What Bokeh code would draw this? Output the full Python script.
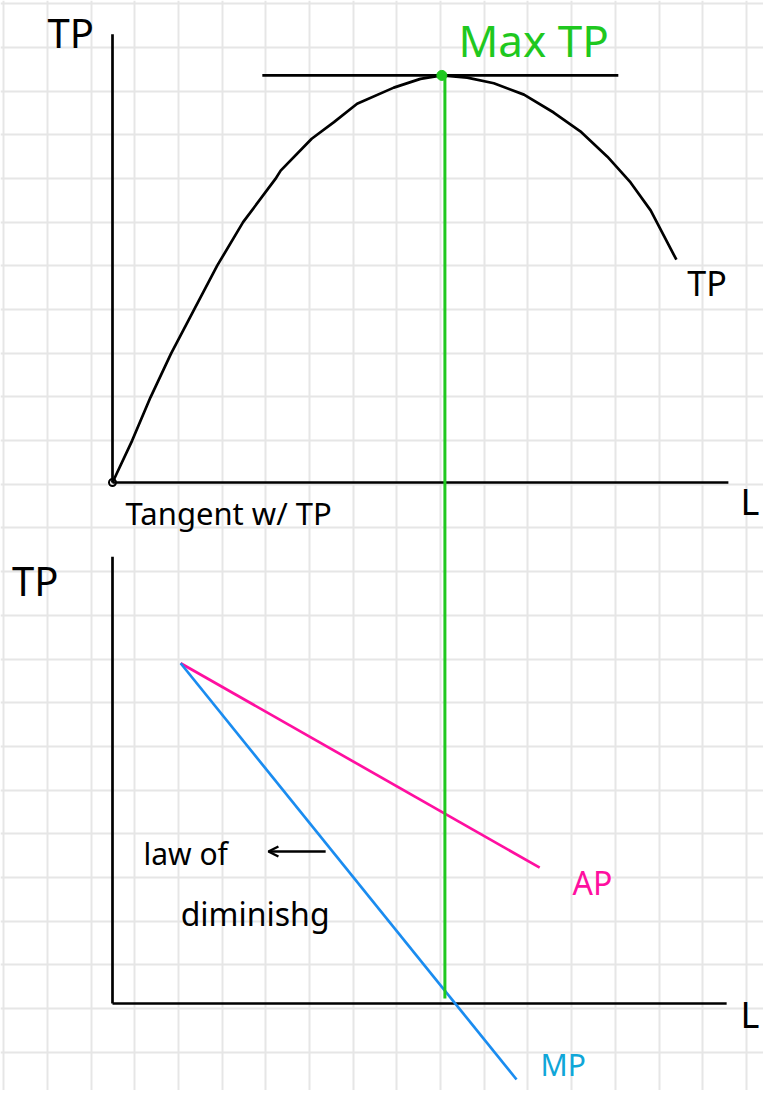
from bokeh.plotting import figure
from bokeh.models import Range1d, Grid, FixedTicker, Arrow, OpenHead, ColumnDataSource
from bokeh.core.properties import value
from bokeh.embed import file_html
from bokeh.resources import INLINE
import numpy as np

# ---------------- data (units = one square of the grid paper) ----------------
# Top panel: total product curve
L_tp = [0.0, 0.45, 0.87, 1.34, 1.88, 2.40, 2.99, 3.73, 3.85, 4.56, 5.07, 5.60,
        6.44, 7.05, 7.54, 8.12, 8.73, 9.42, 10.10, 10.71, 11.33, 11.86, 12.32, 12.91]
TP = [0.0, 0.96, 1.95, 2.95, 3.98, 4.97, 5.96, 6.95, 7.14, 7.87, 8.25, 8.67,
      9.04, 9.24, 9.32, 9.27, 9.14, 8.88, 8.47, 8.04, 7.46, 6.87, 6.23, 5.10]
L_max = 7.54           # labour at maximum TP
TP_max = 9.32          # maximum TP
L_max_line = 7.61      # green vertical line position
tangent_L = [3.43, 11.58]

# Axis extents
top_axis_x = [0.0, 14.10]
top_axis_y = [0.0, 10.26]
bot_axis_x = [0.0, 14.06]
bot_axis_y = [0.0, 10.23]

# Bottom panel: average and marginal product
L_ap = [1.56, 9.78]
AP = [7.79, 3.11]
L_mp = [1.56, 9.25]
MP = [7.79, -1.74]

# Labels
labels_top = ["TP", "Max TP", "TP", "L", "Tangent w/ TP"]
labels_bot = ["TP", "law of", "diminishg", "AP", "MP", "L"]

# ---------------- layout constants ----------------
SQ = 43.68                    # grid square in px
W, H = 763, 1090
OX, OY_TOP, OY_BOT = 112, 482, 1003   # origins in px

x0 = (0 - OX) / SQ
x1 = (W - OX) / SQ
yt_hi = OY_TOP / SQ
yt_lo = (OY_TOP - H) / SQ
yb_hi = OY_BOT / SQ
yb_lo = (OY_BOT - H) / SQ

p = figure(width=W, height=H, output_backend="svg", toolbar_location=None,
           x_axis_type=None, y_axis_type=None, min_border=0,
           x_range=Range1d(x0, x1), y_range=Range1d(yt_lo, yt_hi))
p.extra_y_ranges = {"bot": Range1d(yb_lo, yb_hi)}
p.outline_line_color = None
p.background_fill_color = "white"
p.border_fill_color = "white"

# grid paper
gx = list(np.arange(0, 19) + (3.3 - OX) / SQ)
gy = list((OY_TOP - 3.3) / SQ - np.arange(0, 27))
p.add_layout(Grid(dimension=0, ticker=FixedTicker(ticks=gx),
                  grid_line_color="#e6e6e6", grid_line_width=2))
p.add_layout(Grid(dimension=1, ticker=FixedTicker(ticks=gy),
                  grid_line_color="#e6e6e6", grid_line_width=2))

BLACK = "#000000"
GREEN = "#1fc81f"
PINK = "#ff0fa0"
BLUE = "#1a8cf0"
CYAN = "#10a6d8"
FONT = value("Noto Sans")
LW = 2.7

# top axes
p.line(top_axis_x, [0, 0], line_color=BLACK, line_width=LW)
p.line([0, 0], top_axis_y, line_color=BLACK, line_width=LW)
p.scatter([0], [0], size=7, fill_color=None, line_color=BLACK, line_width=2)

# TP curve and tangent
p.line(L_tp, TP, line_color=BLACK, line_width=LW, line_join="round")
p.line(tangent_L, [TP_max, TP_max], line_color=BLACK, line_width=LW)

# bottom axes
p.line(bot_axis_x, [0, 0], line_color=BLACK, line_width=LW, y_range_name="bot")
p.line([0, 0], bot_axis_y, line_color=BLACK, line_width=LW, y_range_name="bot")

# AP and MP
p.line(L_ap, AP, line_color=PINK, line_width=LW, y_range_name="bot")
p.line(L_mp, MP, line_color=BLUE, line_width=LW, y_range_name="bot")

# green max TP line (drawn down to the bottom panel's axis)
p.line([L_max_line, L_max_line], [TP_max, (OY_TOP - 998) / SQ],
       line_color=GREEN, line_width=3)
p.scatter([L_max], [TP_max], size=10, fill_color=GREEN, line_color=GREEN)

# text labels (top panel)
top_src = ColumnDataSource(dict(
    x=[-1.49, 7.92, 13.16, 14.38, 0.30],
    y=[10.30, 10.12, 4.56, -0.43, -0.69],
    t=labels_top,
    c=[BLACK, GREEN, BLACK, BLACK, BLACK],
    s=["40px", "44px", "34px", "36px", "31px"],
))
p.text(x="x", y="y", text="t", text_color="c", text_font_size="s",
       text_font=FONT, text_baseline="middle", text_align="left", source=top_src)

bot_src = ColumnDataSource(dict(
    x=[-2.30, 0.71, 1.56, 10.53, 9.80, 14.38],
    y=[9.68, 3.43, 2.06, 2.77, -1.40, -0.25],
    t=labels_bot,
    c=[BLACK, BLACK, BLACK, PINK, CYAN, BLACK],
    s=["40px", "30px", "32px", "32px", "30px", "36px"],
))
p.text(x="x", y="y", text="t", text_color="c", text_font_size="s",
       text_font=FONT, text_baseline="middle", text_align="left",
       source=bot_src, y_range_name="bot")

# arrow pointing at the MP line annotation
p.add_layout(Arrow(end=OpenHead(size=10, line_width=2.5, line_color=BLACK),
                   x_start=4.88, y_start=3.48, x_end=3.57, y_end=3.48,
                   line_width=2.5, line_color=BLACK, y_range_name="bot"))

open("out.html", "w").write(file_html(p, INLINE))
